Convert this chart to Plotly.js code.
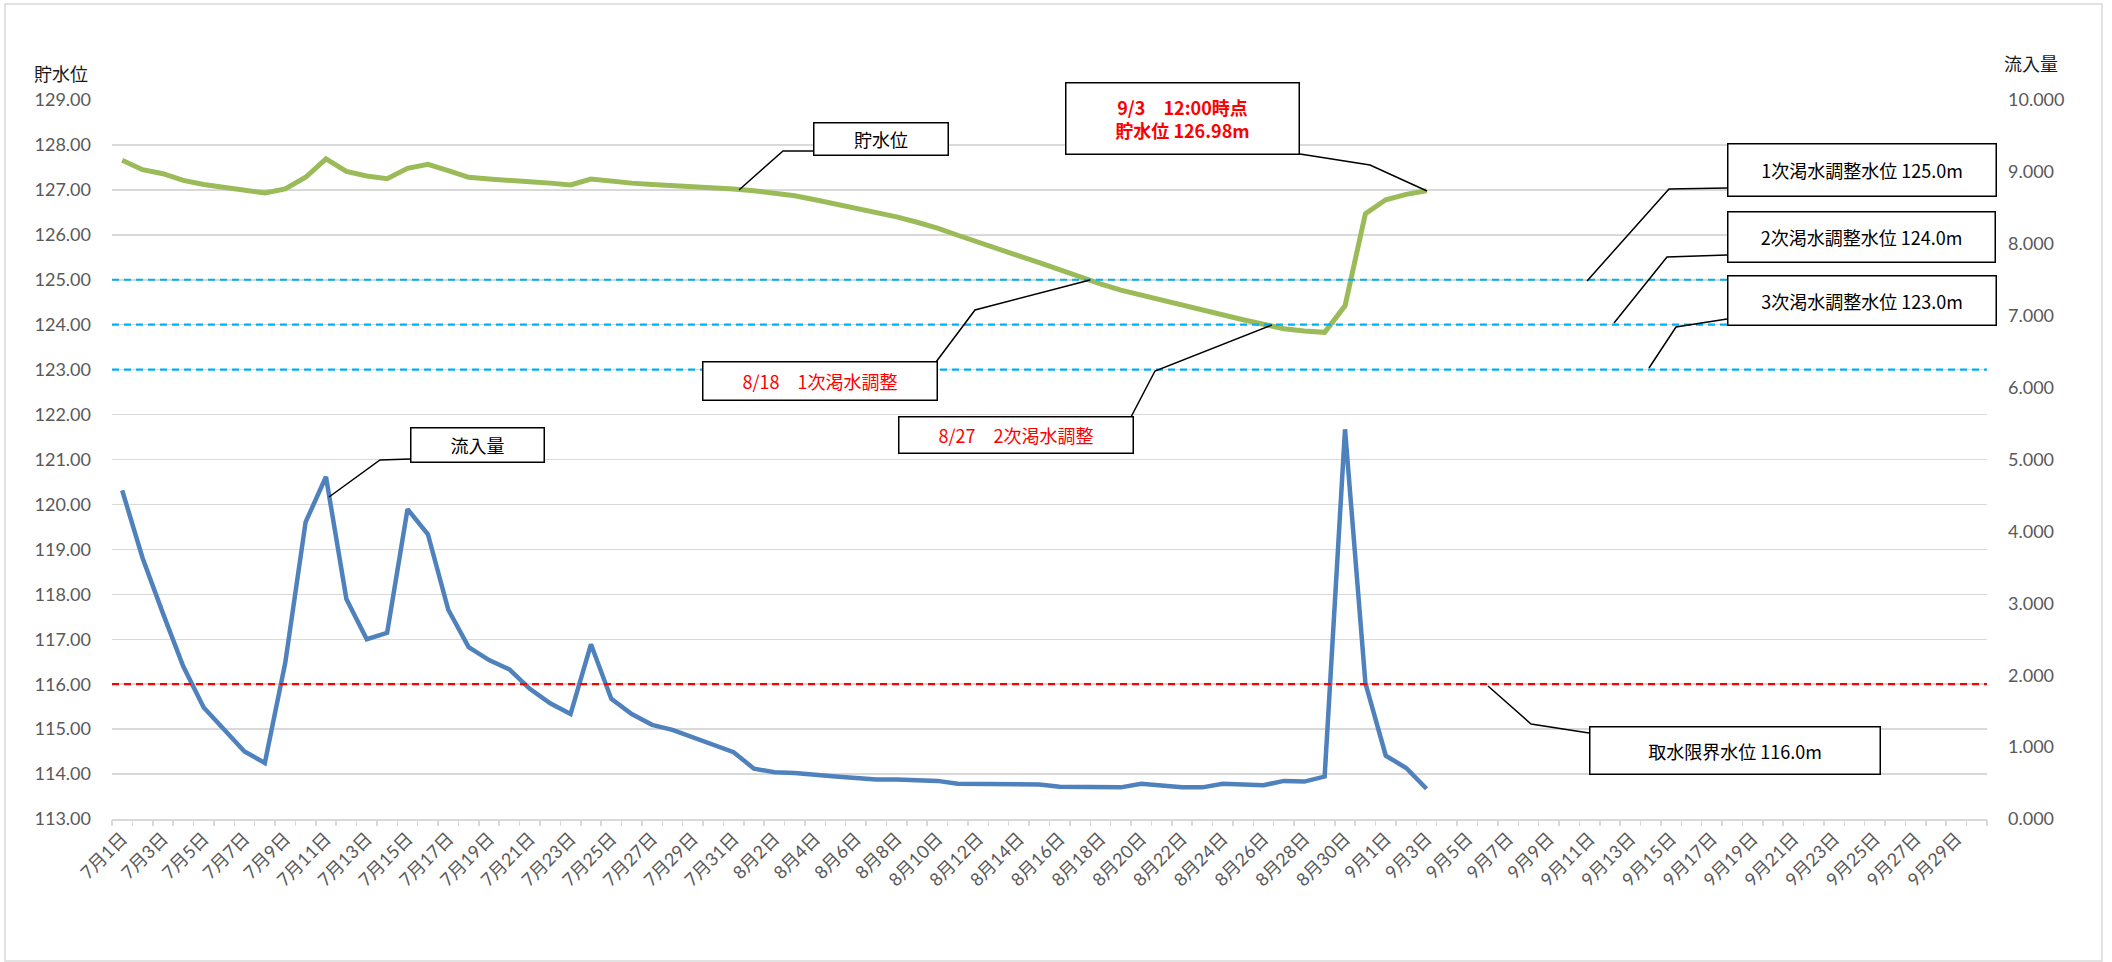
<!DOCTYPE html>
<html>
<head>
<meta charset="utf-8">
<script src="https://cdn.plot.ly/plotly-3.0.1.min.js"></script>
<style>html,body{margin:0;padding:0;background:#fff;}#chart{width:2112px;height:962px;}</style>
</head>
<body>
<div id="chart"></div>
<script>
const categories = [
'7月1日','7月2日','7月3日','7月4日','7月5日','7月6日','7月7日','7月8日','7月9日','7月10日',
'7月11日','7月12日','7月13日','7月14日','7月15日','7月16日','7月17日','7月18日','7月19日','7月20日',
'7月21日','7月22日','7月23日','7月24日','7月25日','7月26日','7月27日','7月28日','7月29日','7月30日','7月31日',
'8月1日','8月2日','8月3日','8月4日','8月5日','8月6日','8月7日','8月8日','8月9日','8月10日',
'8月11日','8月12日','8月13日','8月14日','8月15日','8月16日','8月17日','8月18日','8月19日','8月20日',
'8月21日','8月22日','8月23日','8月24日','8月25日','8月26日','8月27日','8月28日','8月29日','8月30日','8月31日',
'9月1日','9月2日','9月3日','9月4日','9月5日','9月6日','9月7日','9月8日','9月9日','9月10日',
'9月11日','9月12日','9月13日','9月14日','9月15日','9月16日','9月17日','9月18日','9月19日','9月20日',
'9月21日','9月22日','9月23日','9月24日','9月25日','9月26日','9月27日','9月28日','9月29日','9月30日'
];

// 貯水位 (m), left axis
const storageLevel = [
127.66,127.45,127.36,127.21,127.12,127.06,127.01,126.93,127.02,127.28,
127.69,127.41,127.31,127.25,127.48,127.57,127.43,127.28,127.24,127.22,
127.18,127.15,127.11,127.24,127.19,127.15,127.12,127.10,127.08,127.05,127.02,
126.98,126.93,126.87,126.78,126.69,126.60,126.50,126.40,126.28,126.15,
125.99,125.83,125.68,125.53,125.38,125.22,125.06,124.91,124.77,124.66,
124.55,124.43,124.31,124.20,124.11,124.01,123.91,123.86,123.83,124.42,126.47,
126.78,126.90,126.98
];

// 流入量, right axis
const inflow = [
4.57,3.63,2.86,2.12,1.55,1.25,0.94,0.78,2.17,4.13,
4.76,3.06,2.50,2.59,4.31,3.96,2.91,2.39,2.21,2.08,
1.81,1.61,1.46,2.43,1.67,1.46,1.31,1.24,1.14,1.04,0.93,
0.70,0.65,0.64,0.61,0.59,0.57,0.55,0.55,0.54,0.53,
0.49,0.49,0.49,0.48,0.48,0.45,0.45,0.44,0.44,0.49,
0.46,0.44,0.44,0.49,0.48,0.47,0.53,0.52,0.59,5.42,1.89,
0.88,0.71,0.42
];

const droughtLevels = [125.0, 124.0, 123.0];
const intakeLimit = 116.0;

const leftTitle = '貯水位';
const rightTitle = '流入量';

// plot area in page pixels
const W = 2112, H = 962, L = 112, R = 1987, T = 100, B = 819;
const fx = px => (px - L) / (R - L);
const fy = py => (B - py) / (B - T);

const boxes = [
  {text:'貯水位', x0:813, y0:122, x1:949, y1:156, color:'#000', bold:false,
   leader:[[813,151],[783,151],[739,190]]},
  {text:'9/3　12:00時点<br>貯水位 126.98m', x0:1065, y0:82, x1:1300, y1:155, color:'#ff0000', bold:true,
   leader:[[1300,154],[1370,165],[1427,191]]},
  {text:'1次渇水調整水位 125.0m', x0:1727, y0:143, x1:1997, y1:197, color:'#000', bold:false,
   leader:[[1727,188],[1669,189],[1587,281]]},
  {text:'2次渇水調整水位 124.0m', x0:1727, y0:211, x1:1996, y1:263, color:'#000', bold:false,
   leader:[[1727,255],[1667,257],[1614,323]]},
  {text:'3次渇水調整水位 123.0m', x0:1727, y0:275, x1:1997, y1:326, color:'#000', bold:false,
   leader:[[1727,319],[1676,327],[1649,368]]},
  {text:'8/18　1次渇水調整', x0:702, y0:361, x1:938, y1:401, color:'#ff0000', bold:false,
   leader:[[936,362],[975,310],[1090,280]]},
  {text:'8/27　2次渇水調整', x0:898, y0:416, x1:1134, y1:454, color:'#ff0000', bold:false,
   leader:[[1131,417],[1155,371],[1272,325]]},
  {text:'流入量', x0:410, y0:427, x1:545, y1:463, color:'#000', bold:false,
   leader:[[410,459],[380,460],[329,497]]},
  {text:'取水限界水位 116.0m', x0:1589, y0:726, x1:1881, y1:775, color:'#000', bold:false,
   leader:[[1589,733],[1531,724],[1488,686]]}
];

const cjk = "'Noto Sans CJK JP', 'Noto Sans', sans-serif";
const tickFont = {family: "Lato, 'Noto Sans CJK JP', sans-serif", size: 18, color: '#595959'};

const traces = [
  {x: categories.slice(0, storageLevel.length), y: storageLevel, type:'scatter', mode:'lines',
   name:'貯水位', line:{color:'#9bbb59', width:5}, xaxis:'x', yaxis:'y', hoverinfo:'x+y'},
  {x: categories.slice(0, inflow.length), y: inflow, type:'scatter', mode:'lines',
   name:'流入量', line:{color:'#4f81bd', width:4.5}, xaxis:'x', yaxis:'y2', hoverinfo:'x+y'},
  {x: categories, y: categories.map(() => null), type:'scatter', mode:'lines',
   xaxis:'x2', yaxis:'y', showlegend:false, hoverinfo:'skip'}
];

const shapes = [];
droughtLevels.forEach(v => shapes.push({type:'line', xref:'paper', yref:'y', x0:0, x1:1, y0:v, y1:v,
  line:{color:'#00b0f0', width:2.2, dash:'7px,5px'}, layer:'above'}));
shapes.push({type:'line', xref:'paper', yref:'y', x0:0, x1:1, y0:intakeLimit, y1:intakeLimit,
  line:{color:'#ff0000', width:2.2, dash:'7px,5px'}, layer:'above'});
boxes.forEach(b => {
  const p = b.leader.map((q, i) => (i ? 'L' : 'M') + fx(q[0]) + ',' + fy(q[1])).join(' ');
  shapes.push({type:'path', xref:'paper', yref:'paper', path:p, line:{color:'#000', width:1.5}, layer:'above'});
});
// chart-area border
shapes.push({type:'rect', xref:'paper', yref:'paper', x0:fx(5), x1:fx(2102), y0:fy(961), y1:fy(4),
  line:{color:'#d9d9d9', width:1.5}, fillcolor:'rgba(0,0,0,0)', layer:'below'});

const annotations = boxes.map(b => ({
  xref:'paper', yref:'paper', x: fx((b.x0 + b.x1) / 2), y: fy((b.y0 + b.y1) / 2),
  xanchor:'center', yanchor:'middle', showarrow:false,
  text: b.bold ? '<b>' + b.text + '</b>' : b.text,
  font:{family:cjk, size:18, color:b.color},
  bgcolor:'#ffffff', bordercolor:'#000000', borderwidth:1.5, borderpad:0,
  width:(b.x1 - b.x0) - 3, height:(b.y1 - b.y0) - 3, align:'center', valign:'middle'
}));
annotations.push({xref:'paper', yref:'paper', x:fx(32), y:fy(73), xanchor:'left', yanchor:'middle',
  showarrow:false, text:leftTitle, font:{family:cjk, size:18, color:'#1a1a1a'}});
annotations.push({xref:'paper', yref:'paper', x:fx(2002), y:fy(63), xanchor:'left', yanchor:'middle',
  showarrow:false, text:rightTitle, font:{family:cjk, size:18, color:'#1a1a1a'}});

const layout = {
  width: W, height: H,
  margin: {l: L, r: W - R, t: T, b: H - B, pad: 0},
  paper_bgcolor:'#ffffff', plot_bgcolor:'#ffffff',
  showlegend: false,
  xaxis: {type:'category', categoryorder:'array', categoryarray:categories,
    range:[-0.5, categories.length - 0.5], tickmode:'array',
    tickvals: categories.filter((_, i) => i % 2 === 0), tickangle:-45,
    tickfont: tickFont, ticks:'', showgrid:false, zeroline:false,
    showline:true, linecolor:'#d9d9d9', linewidth:2, fixedrange:true},
  xaxis2: {type:'category', categoryorder:'array', categoryarray:categories, overlaying:'x', anchor:'y',
    range:[-0.5, categories.length - 0.5], tickson:'boundaries', ticks:'outside', ticklen:6,
    tickcolor:'#d9d9d9', tickwidth:1.5, showticklabels:false, showgrid:false, zeroline:false, showline:false},
  yaxis: {range:[113, 129], dtick:1, tick0:113, tickformat:'.2f', tickfont:tickFont,
    gridcolor:'#d9d9d9', gridwidth:1.5, zeroline:false, showline:false, ticks:'', ticklabelstandoff:20},
  yaxis2: {range:[0, 10], dtick:1, tick0:0, tickformat:'.3f', tickfont:tickFont, overlaying:'y', side:'right',
    showgrid:false, zeroline:false, showline:false, ticks:'', ticklabelstandoff:20},
  shapes: shapes,
  annotations: annotations
};

Plotly.newPlot('chart', traces, layout, {displayModeBar:false, staticPlot:true});
</script>
</body>
</html>
